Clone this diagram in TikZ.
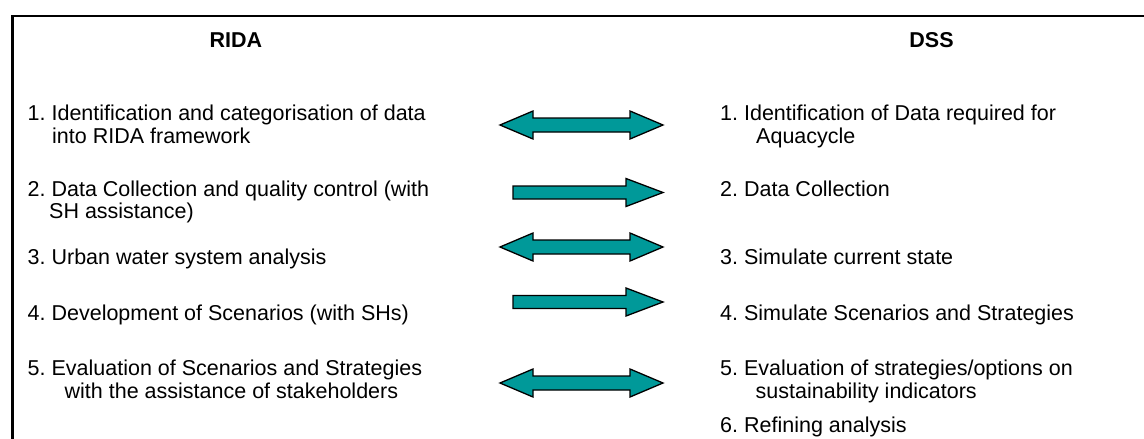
\documentclass[tikz,border=0pt]{standalone}
\usepackage{fontspec}
\setmainfont{Liberation Sans}
\definecolor{teal}{RGB}{0,153,153}
\frenchspacing
\begin{document}
\begin{tikzpicture}[x=1pt,y=-1pt,
  txt/.style={anchor=base west,inner sep=0pt,font=\fontsize{21.5}{23}\selectfont\frenchspacing},
  head/.style={anchor=base,inner sep=0pt,font=\fontsize{21.5}{23}\selectfont\bfseries},
  arrowshape/.style={fill=teal,draw=black,line width=1.3pt,line join=miter}]
\useasboundingbox (0,0) rectangle (1144,439);
\fill[white] (0,0) rectangle (1144,439);
% frame
\draw[line width=2.5pt] (12.5,440) -- (12.5,16) -- (1145,16);
% headings
\node[head] (rida) at (236,47) {RIDA};
\node[head] (dss) at (931.5,47) {DSS};
% left column
\node[txt] (l1a) at (27.5,120) {1. Identification and categorisation of data};
\node[txt] (l1b) at (52,143) {into RIDA framework};
\node[txt] (l2a) at (27.5,196) {2. Data Collection and quality control (with};
\node[txt] (l2b) at (49,218) {SH assistance)};
\node[txt] (l3) at (27.5,264) {3. Urban water system analysis};
\node[txt] (l4) at (27.5,320) {4. Development of Scenarios (with SHs)};
\node[txt] (l5a) at (27.5,375) {5. Evaluation of Scenarios and Strategies};
\node[txt] (l5b) at (64.5,398) {with the assistance of stakeholders};
% right column
\node[txt] (r1a) at (720,120) {1. Identification of Data required for};
\node[txt] (r1b) at (756,143) {Aquacycle};
\node[txt] (r2) at (720,196) {2. Data Collection};
\node[txt] (r3) at (720,264) {3. Simulate current state};
\node[txt] (r4) at (720,320) {4. Simulate Scenarios and Strategies};
\node[txt] (r5a) at (720,375) {5. Evaluation of strategies/options on};
\node[txt] (r5b) at (755.5,398) {sustainability indicators};
\node[txt] (r6) at (720,432) {6. Refining analysis};
% arrows
\foreach \y in {125,247,383}{
  \draw[arrowshape] (500,\y) -- (533,\y-14) -- (533,\y-7) -- (630,\y-7) -- (630,\y-14)
    -- (663,\y) -- (630,\y+14) -- (630,\y+7) -- (533,\y+7) -- (533,\y+14) -- cycle;
}
\foreach \y in {192.5,302}{
  \draw[arrowshape] (513,\y-6.5) -- (626,\y-6.5) -- (626,\y-14) -- (663,\y)
    -- (626,\y+14) -- (626,\y+6.5) -- (513,\y+6.5) -- cycle;
}
\end{tikzpicture}
\end{document}
